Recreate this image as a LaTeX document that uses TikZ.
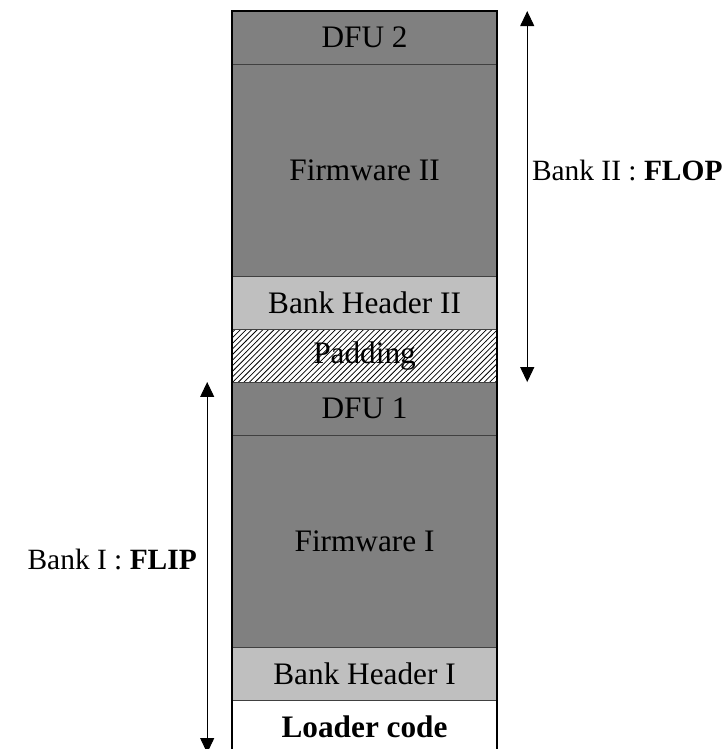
\documentclass[tikz,border=0pt]{standalone}
\usepackage{fontspec}
\setmainfont{Liberation Serif}
\usetikzlibrary{patterns,arrows.meta}
\tikzset{
	blk/.style 2 args={draw=black!75,line width=0.5pt,minimum width=5cm,minimum height=#1cm,inner sep=0pt,outer sep=0pt,anchor=south west,fill=#2,font=\fontsize{16.8}{20}\selectfont},
	dark/.style={blk={#1}{black!50}},
	light/.style={blk={#1}{black!25}},
	pad/.style={blk={#1}{white},pattern=north east lines},
	bank/.style={{Triangle[width=7.5pt,length=8pt]}-{Triangle[width=7.5pt,length=8pt]},line width=0.5pt},
	lbl/.style={font=\fontsize{15.8}{19}\selectfont}
}
\begin{document}
\begin{tikzpicture}
	\useasboundingbox (-4.38,0.075) rectangle (9.32,14.21);
	\node [blk={1}{white}] (loader) at (0,0) {\bfseries Loader code};
	\node [light={1}] (hdr1) at (0,1) {Bank Header I};
	\node [dark={4}] (fw1) at (0,2) {Firmware I};
	\node [dark={1}] (dfu1) at (0,6) {DFU 1};
	\node [pad={1}] (padding) at (0,7) {};
	\node [blk={1}{white},fill=none,draw=none] (padtxt) at (padding.south west) {Padding};
	\node [light={1}] (hdr2) at (0,8) {Bank Header II};
	\node [dark={4}] (fw2) at (0,9) {Firmware II};
	\node [dark={1}] (dfu2) at (0,13) {DFU 2};

	\draw [line width=1pt] (loader.south west) rectangle (dfu2.north east);

	\coordinate (b2top) at (5.57,14);
	\coordinate (b2bot) at (5.57,7);
	\coordinate (b1top) at (-0.47,7);
	\coordinate (b1bot) at (-0.47,0);
	\draw [bank] (b2top) -- (b2bot) node [lbl,midway,right=-1pt,yshift=0.5cm] (flop) {Bank II : \textbf{FLOP}};
	\draw [bank] (b1top) -- (b1bot) node [lbl,midway,left=2pt,yshift=0.15cm] (flip) {Bank I : \textbf{FLIP}};
\end{tikzpicture}
\end{document}
